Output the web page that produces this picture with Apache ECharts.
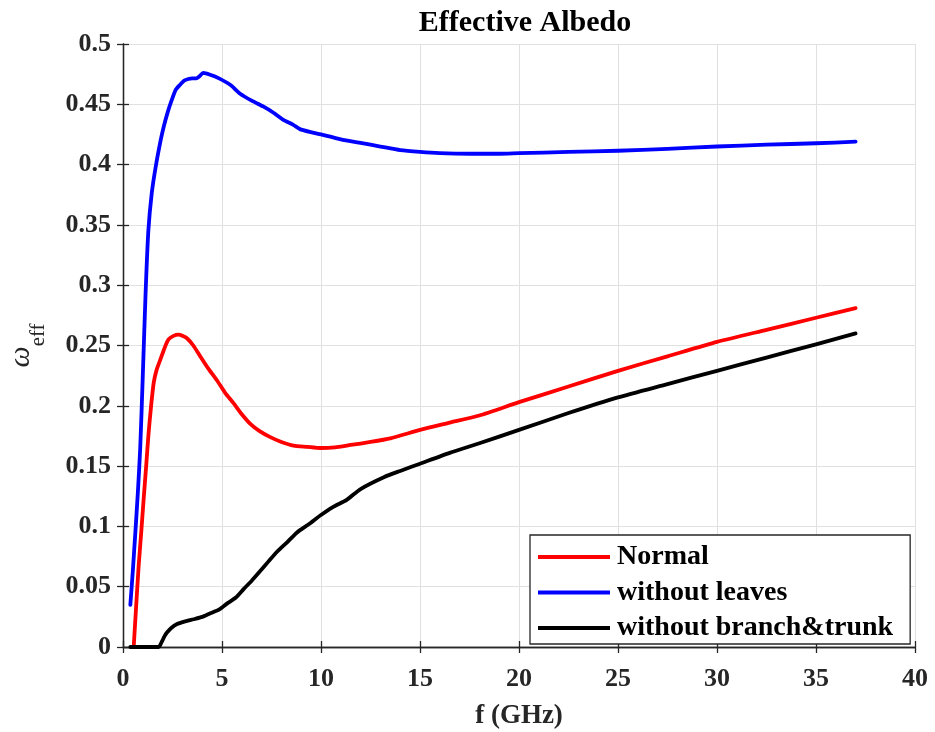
<!DOCTYPE html>
<html>
<head>
<meta charset="utf-8">
<script src="https://cdn.jsdelivr.net/npm/echarts@6/dist/echarts.min.js"></script>
<style>
  html, body { margin: 0; padding: 0; background: #fff; }
  #chart { width: 935px; height: 732px; }
</style>
</head>
<body>
<div id="chart"></div>
<script>
// Effective albedo versus frequency for three canopy configurations
const seriesNames = ['Normal', 'without leaves', 'without branch&trunk'];

const freqNormal = [0.54, 0.65, 0.79, 0.92, 1.04, 1.17, 1.29, 1.42, 1.55, 1.7, 1.88, 2.1, 2.3, 2.55, 2.81, 3.0, 3.23, 3.55, 3.9, 4.3, 4.75, 5.15, 5.59, 6.0, 6.43, 6.9, 7.44, 8.0, 8.62, 9.3, 9.96, 10.7, 11.5, 12.5, 13.5, 15, 16.5, 18, 20, 22.5, 25, 27.5, 30, 32.5, 35, 37];
const albedoNormal = [0, 0.03, 0.067, 0.095, 0.122, 0.15, 0.177, 0.2, 0.219, 0.23, 0.238, 0.248, 0.255, 0.258, 0.259, 0.258, 0.256, 0.25, 0.241, 0.231, 0.221, 0.211, 0.202, 0.193, 0.185, 0.179, 0.174, 0.17, 0.167, 0.166, 0.165, 0.1655, 0.1675, 0.17, 0.173, 0.18, 0.186, 0.192, 0.203, 0.216, 0.229, 0.241, 0.253, 0.263, 0.273, 0.281];

const freqNoLeaves = [0.37, 0.5, 0.62, 0.75, 0.87, 1.0, 1.14, 1.28, 1.45, 1.65, 1.9, 2.05, 2.24, 2.45, 2.66, 2.87, 3.08, 3.3, 3.5, 3.7, 3.85, 4.05, 4.4, 4.85, 5.43, 5.9, 6.5, 7.1, 7.6, 8.1, 8.6, 9.0, 10.0, 11, 12, 13, 14, 15, 16, 17.5, 19, 20, 22.5, 25, 27.5, 30, 32.5, 35, 37];
const albedoNoLeaves = [0.035, 0.064, 0.094, 0.128, 0.165, 0.225, 0.293, 0.345, 0.376, 0.398, 0.42, 0.431, 0.4425, 0.453, 0.462, 0.466, 0.4695, 0.471, 0.4715, 0.4715, 0.473, 0.476, 0.4745, 0.4715, 0.466, 0.459, 0.453, 0.448, 0.443, 0.437, 0.433, 0.429, 0.425, 0.421, 0.418, 0.415, 0.412, 0.4105, 0.4095, 0.409, 0.409, 0.4095, 0.4105, 0.4115, 0.413, 0.415, 0.4165, 0.4177, 0.419];

const freqNoBranch = [0.37, 1.0, 1.8, 1.95, 2.1, 2.22, 2.45, 2.73, 3.1, 3.57, 4.0, 4.41, 4.85, 5.25, 5.7, 6.09, 6.5, 6.93, 7.35, 7.78, 8.3, 8.79, 9.4, 9.96, 10.6, 11.3, 12, 13.2, 14, 15, 16.5, 18, 20, 22.5, 25, 27.5, 30, 32.5, 35, 37];
const albedoNoBranch = [0, 0, 0, 0.004, 0.009, 0.012, 0.016, 0.019, 0.021, 0.023, 0.025, 0.028, 0.031, 0.036, 0.041, 0.048, 0.055, 0.063, 0.071, 0.079, 0.087, 0.095, 0.102, 0.109, 0.116, 0.122, 0.131, 0.141, 0.146, 0.152, 0.161, 0.169, 0.180, 0.194, 0.207, 0.218, 0.229, 0.240, 0.251, 0.26];

const xTicks = { min: 0, max: 40, interval: 5 };
const yTicks = { min: 0, max: 0.5, interval: 0.05 };

const FONT = "'Liberation Serif', 'Times New Roman', serif";
const INK = '#262626';

function pairs(xs, ys) { return xs.map((x, i) => [x, ys[i]]); }

const chart = echarts.init(document.getElementById('chart'), null, { renderer: 'canvas' });

const hiddenAxis = {
  axisLine: { show: true, lineStyle: { color: INK, width: 1.3 } },
  axisTick: { show: true, inside: true, length: 6, lineStyle: { color: INK, width: 1.3 } },
  axisLabel: { show: false },
  splitLine: { show: false }
};

function lineSeries(name, xs, ys, color, z) {
  return {
    name: name, type: 'line', data: pairs(xs, ys),
    showSymbol: false, smooth: 0.2,
    lineStyle: { color: color, width: 3.8, cap: 'round', join: 'round' },
    itemStyle: { color: color }, z: z
  };
}

chart.setOption({
  animation: false,
  backgroundColor: '#fff',
  title: {
    text: 'Effective Albedo',
    left: 520,
    top: 3,
    textAlign: 'center',
    textStyle: { fontFamily: FONT, fontWeight: 'bold', fontSize: 30, color: '#000' }
  },
  grid: { left: 123, right: 20, top: 44, bottom: 85, containLabel: false, outerBoundsMode: 'none' },
  legend: {
    orient: 'vertical',
    left: 530,
    top: 535,
    data: seriesNames,
    icon: 'rect',
    itemWidth: 72,
    itemHeight: 4,
    itemGap: 5.5,
    padding: [7, 17, 1, 8],
    borderColor: INK,
    borderWidth: 1.3,
    backgroundColor: '#fff',
    textStyle: { fontFamily: FONT, fontWeight: 'bold', fontSize: 28, color: '#000', lineHeight: 30, padding: [0, 0, 0, 2] }
  },
  xAxis: [
    {
      type: 'value', position: 'bottom',
      min: xTicks.min, max: xTicks.max, interval: xTicks.interval,
      name: 'f (GHz)', nameLocation: 'middle', nameGap: 56,
      nameTextStyle: { fontFamily: FONT, fontWeight: 'bold', fontSize: 27, color: INK },
      axisLine: { show: true, onZero: false, lineStyle: { color: INK, width: 1.3 } },
      axisTick: { show: true, inside: true, length: 6, lineStyle: { color: INK, width: 1.3 } },
      axisLabel: { fontFamily: FONT, fontWeight: 'bold', fontSize: 26, color: INK, margin: 19 },
      splitLine: { show: true, lineStyle: { color: '#e0e0e0', width: 1 } }
    },
    Object.assign({ type: 'value', position: 'top', min: xTicks.min, max: xTicks.max, interval: xTicks.interval }, hiddenAxis)
  ],
  yAxis: [
    {
      type: 'value', position: 'left',
      min: yTicks.min, max: yTicks.max, interval: yTicks.interval,
      name: '{w|ω}{s|eff}', nameLocation: 'middle', nameRotate: 90, nameGap: 74,
      nameTextStyle: {
        rich: {
          w: { fontFamily: FONT, fontStyle: 'italic', fontSize: 30, color: INK },
          s: { fontFamily: FONT, fontSize: 21, color: INK, padding: [35, 0, 0, 0] }
        }
      },
      axisLine: { show: true, onZero: false, lineStyle: { color: INK, width: 1.3 } },
      axisTick: { show: true, inside: true, length: 6, lineStyle: { color: INK, width: 1.3 } },
      axisLabel: { fontFamily: FONT, fontWeight: 'bold', fontSize: 26, color: INK, margin: 12 },
      splitLine: { show: true, lineStyle: { color: '#e0e0e0', width: 1 } }
    },
    Object.assign({ type: 'value', position: 'right', min: yTicks.min, max: yTicks.max, interval: yTicks.interval }, hiddenAxis)
  ],
  series: [
    lineSeries(seriesNames[0], freqNormal, albedoNormal, '#ff0000', 3),
    lineSeries(seriesNames[1], freqNoLeaves, albedoNoLeaves, '#0000ff', 2),
    lineSeries(seriesNames[2], freqNoBranch, albedoNoBranch, '#000000', 4)
  ]
});
</script>
</body>
</html>
